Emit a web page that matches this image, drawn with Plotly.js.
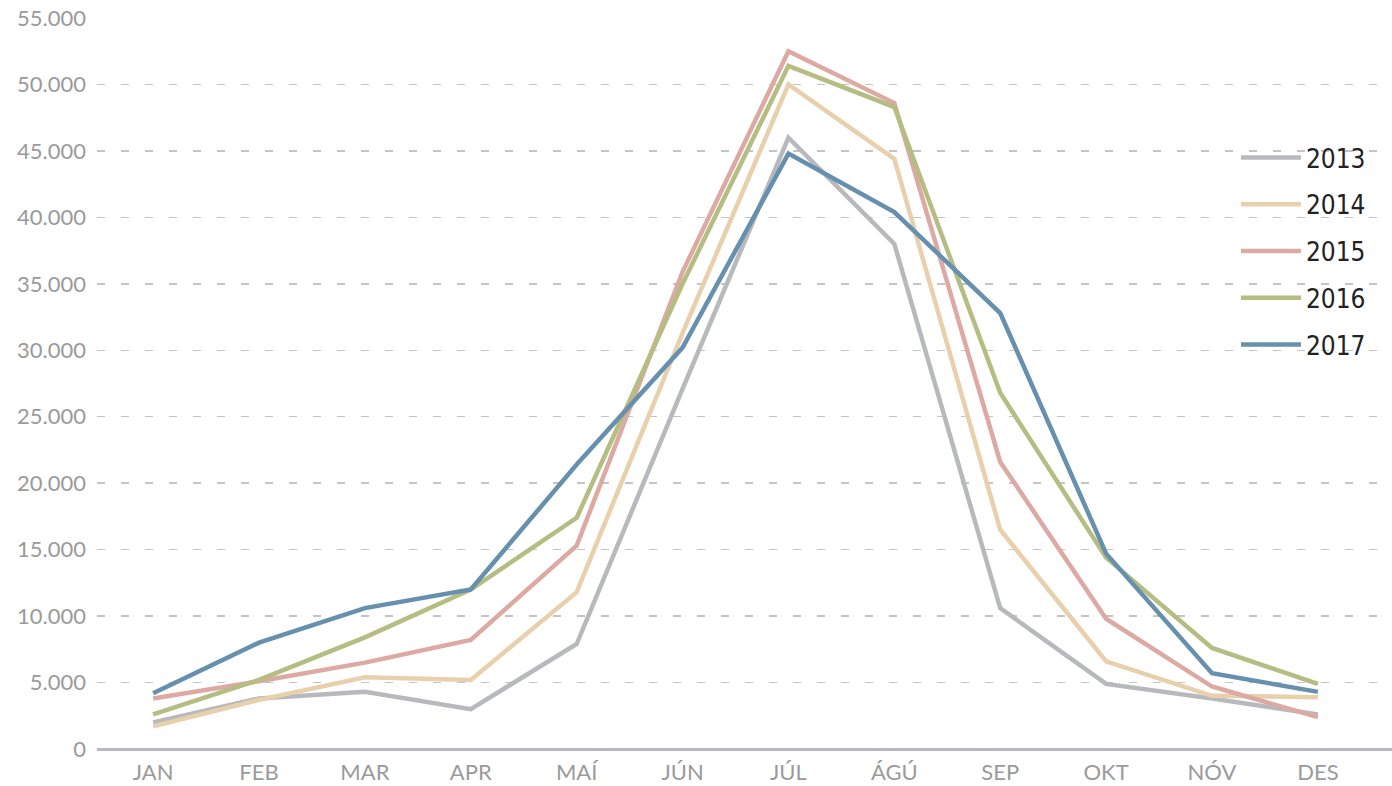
<!DOCTYPE html>
<html>
<head>
<meta charset="utf-8">
<script src="https://cdn.plot.ly/plotly-3.0.1.min.js"></script>
<style>
  html, body { margin: 0; padding: 0; background: #ffffff; }
  #chart { width: 1392px; height: 786px; }
</style>
</head>
<body>
<div id="chart"></div>
<script>
// Month labels (Icelandic)
const months = ["JAN", "FEB", "MAR", "APR", "MAÍ", "JÚN", "JÚL", "ÁGÚ", "SEP", "OKT", "NÓV", "DES"];

// Series values
const years = ["2013", "2014", "2015", "2016", "2017"];
const v2013 = [2000, 3800, 4300, 3000, 7900, 27100, 46000, 38000, 10600, 4900, 3800, 2600];
const v2014 = [1700, 3700, 5400, 5200, 11800, 31300, 50000, 44400, 16500, 6600, 4000, 3900];
const v2015 = [3800, 5100, 6500, 8200, 15300, 35900, 52500, 48600, 21600, 9800, 4700, 2400];
const v2016 = [2600, 5200, 8400, 12000, 17400, 35000, 51400, 48300, 26800, 14400, 7600, 4900];
const v2017 = [4200, 8000, 10600, 12000, 21400, 30200, 44800, 40400, 32800, 14700, 5700, 4300];

// Y axis ticks
const yTicks = [0, 5000, 10000, 15000, 20000, 25000, 30000, 35000, 40000, 45000, 50000, 55000];

const series = [v2013, v2014, v2015, v2016, v2017];
const colors = ["#b8b9bd", "#e8d0ad", "#dcaaa2", "#b5bd82", "#6690ae"];

const traces = series.map((vals, i) => ({
  type: "scatter",
  mode: "lines",
  name: years[i],
  legendgroup: years[i],
  x: months,
  y: vals,
  line: { color: colors[i], width: 4.5 },
  hoverinfo: "x+y+name"
}));

const axisFont = { family: "Lato, 'Open Sans', sans-serif", size: 22, color: "#9a9a9a" };

const layout = {
  width: 1392,
  height: 786,
  margin: { l: 97, r: 0, t: 18, b: 37, pad: 0 },
  paper_bgcolor: "#ffffff",
  plot_bgcolor: "#ffffff",
  separators: ",.",
  showlegend: true,
  legend: {
    x: 0.8795, xanchor: "left",
    y: 0.8413, yanchor: "top",
    bgcolor: "rgba(0,0,0,0)",
    borderwidth: 0,
    traceorder: "grouped",
    tracegroupgap: 10,
    itemwidth: 60,
    font: { family: "'Liberation Sans Narrow', 'Arial Narrow', 'DejaVu Sans Condensed', sans-serif", size: 26, color: "#222222" }
  },
  xaxis: {
    type: "category",
    range: [-0.53, 11.7],
    showgrid: false,
    zeroline: false,
    showline: false,
    ticks: "",
    ticklabelstandoff: 8,
    tickfont: axisFont,
    fixedrange: true
  },
  yaxis: {
    range: [0, 55000],
    tickvals: yTicks,
    tickformat: ",d",
    showgrid: true,
    gridcolor: "#c4c4c4",
    gridwidth: 1.5,
    griddash: "8px,16px",
    zeroline: true,
    zerolinecolor: "#b8b9bd",
    zerolinewidth: 3,
    showline: false,
    ticks: "",
    ticklabelstandoff: 10,
    tickfont: axisFont,
    fixedrange: true
  },
  shapes: [{
    type: "rect",
    xref: "paper", yref: "paper",
    x0: 0.854, x1: 1.01, y0: 0.41, y1: 1.01,
    fillcolor: "#ffffff",
    line: { width: 0 },
    layer: "between"
  }]
};

Plotly.newPlot("chart", traces, layout, { displayModeBar: false, staticPlot: true });
</script>
</body>
</html>
